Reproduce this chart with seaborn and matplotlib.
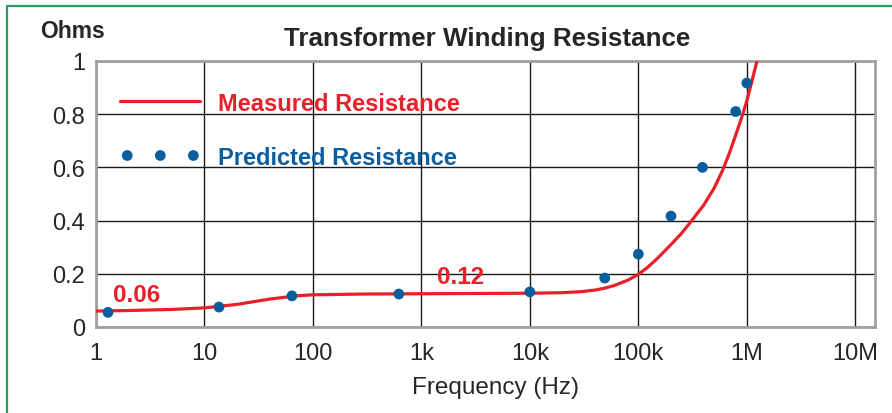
import matplotlib
matplotlib.use("Agg")
import matplotlib.pyplot as plt
import seaborn as sns
import pandas as pd
from matplotlib.lines import Line2D

# measured curve
measured_freq = [1, 2, 5, 10, 20, 40, 70, 100, 300, 1000, 3000, 10000, 20000,
                 30000, 40000, 50000, 60000, 80000, 100000, 120000, 150000,
                 200000, 250000, 300000, 400000, 500000, 600000, 700000,
                 800000, 900000, 1000000, 1100000, 1250000]
measured_ohms = [0.060, 0.062, 0.066, 0.072, 0.085, 0.105, 0.117, 0.121, 0.124,
                 0.125, 0.126, 0.127, 0.129, 0.133, 0.139, 0.147, 0.156, 0.176,
                 0.198, 0.222, 0.258, 0.310, 0.352, 0.392, 0.458, 0.522, 0.590,
                 0.660, 0.728, 0.790, 0.850, 0.915, 1.005]

# predicted points
predicted_freq = [1.29, 13.6, 64, 620, 10000, 49000, 100000, 200000, 390000,
                  790000, 1000000]
predicted_ohms = [0.055, 0.075, 0.117, 0.124, 0.132, 0.184, 0.274, 0.417, 0.600,
                  0.810, 0.917]

x_ticks = [1, 10, 100, 1e3, 1e4, 1e5, 1e6, 1e7]
x_tick_labels = ["1", "10", "100", "1k", "10k", "100k", "1M", "10M"]
y_ticks = [0, 0.2, 0.4, 0.6, 0.8, 1]
y_tick_labels = ["0", "0.2", "0.4", "0.6", "0.8", "1"]

RED = "#e8202a"
BLUE = "#0b5e9e"
GREEN = "#2a9a66"

sns.set_style("white")
plt.rcParams["font.family"] = ["Liberation Sans", "DejaVu Sans"]

measured = pd.DataFrame({"freq": measured_freq, "ohms": measured_ohms})
predicted = pd.DataFrame({"freq": predicted_freq, "ohms": predicted_ohms})

fig = plt.figure(figsize=(8.92, 4.14), dpi=100)
ax = fig.add_axes([96 / 892, 86 / 414, 779 / 892, 266 / 414])

sns.lineplot(data=measured, x="freq", y="ohms", ax=ax, color=RED,
             linewidth=2.3, label="Measured Resistance", zorder=3)
sns.scatterplot(data=predicted, x="freq", y="ohms", ax=ax, color=BLUE,
                s=60, edgecolor="none", label="Predicted Resistance", zorder=4)

ax.set_xscale("log")
ax.set_xlim(1, 1.52e7)
ax.set_ylim(0, 1)
ax.set_xticks(x_ticks)
ax.set_xticklabels(x_tick_labels)
ax.set_yticks(y_ticks)
ax.set_yticklabels(y_tick_labels)
ax.minorticks_off()
ax.tick_params(axis="x", length=0, pad=11, labelsize=17)
ax.tick_params(axis="y", length=0, pad=8, labelsize=17)
ax.grid(True, color="#1a1a1a", linewidth=1.0)
ax.set_axisbelow(True)
for sp in ax.spines.values():
    sp.set_color("#a0a0a0")
    sp.set_linewidth(2)
ax.set_xlabel("")
ax.set_ylabel("")

leg = ax.legend(loc="upper left", bbox_to_anchor=(0.031, 0.885), frameon=False,
                borderpad=0, borderaxespad=0, handlelength=3.4,
                handletextpad=0.76, labelspacing=1.32, scatterpoints=3,
                scatteryoffsets=[0.5], prop={"weight": "bold", "size": 17})
for txt, col in zip(leg.get_texts(), [RED, BLUE]):
    txt.set_color(col)

ax.text(1.44, 0.124, "0.06", color=RED, fontsize=17.5, fontweight="bold",
        va="center", ha="left")
ax.text(1380, 0.19, "0.12", color=RED, fontsize=17.5, fontweight="bold",
        va="center", ha="left")

fig.text(487 / 892, 0.906, "Transformer Winding Resistance", fontsize=18.7,
         fontweight="bold", ha="center", va="center")
fig.text(40 / 892, 0.923, "Ohms", fontsize=16.5, fontweight="bold",
         ha="left", va="center")
fig.text(495 / 892, 0.064, "Frequency (Hz)", fontsize=17.5, ha="center",
         va="center")

# green frame around the figure
fig.add_artist(Line2D([6.5 / 892, 6.5 / 892], [0, 1 - 6.5 / 414],
                      transform=fig.transFigure, color=GREEN, linewidth=1.6))
fig.add_artist(Line2D([6.5 / 892, 1], [1 - 6.5 / 414, 1 - 6.5 / 414],
                      transform=fig.transFigure, color=GREEN, linewidth=1.6))

fig.savefig("out.png", dpi=100)
plt.close(fig)
